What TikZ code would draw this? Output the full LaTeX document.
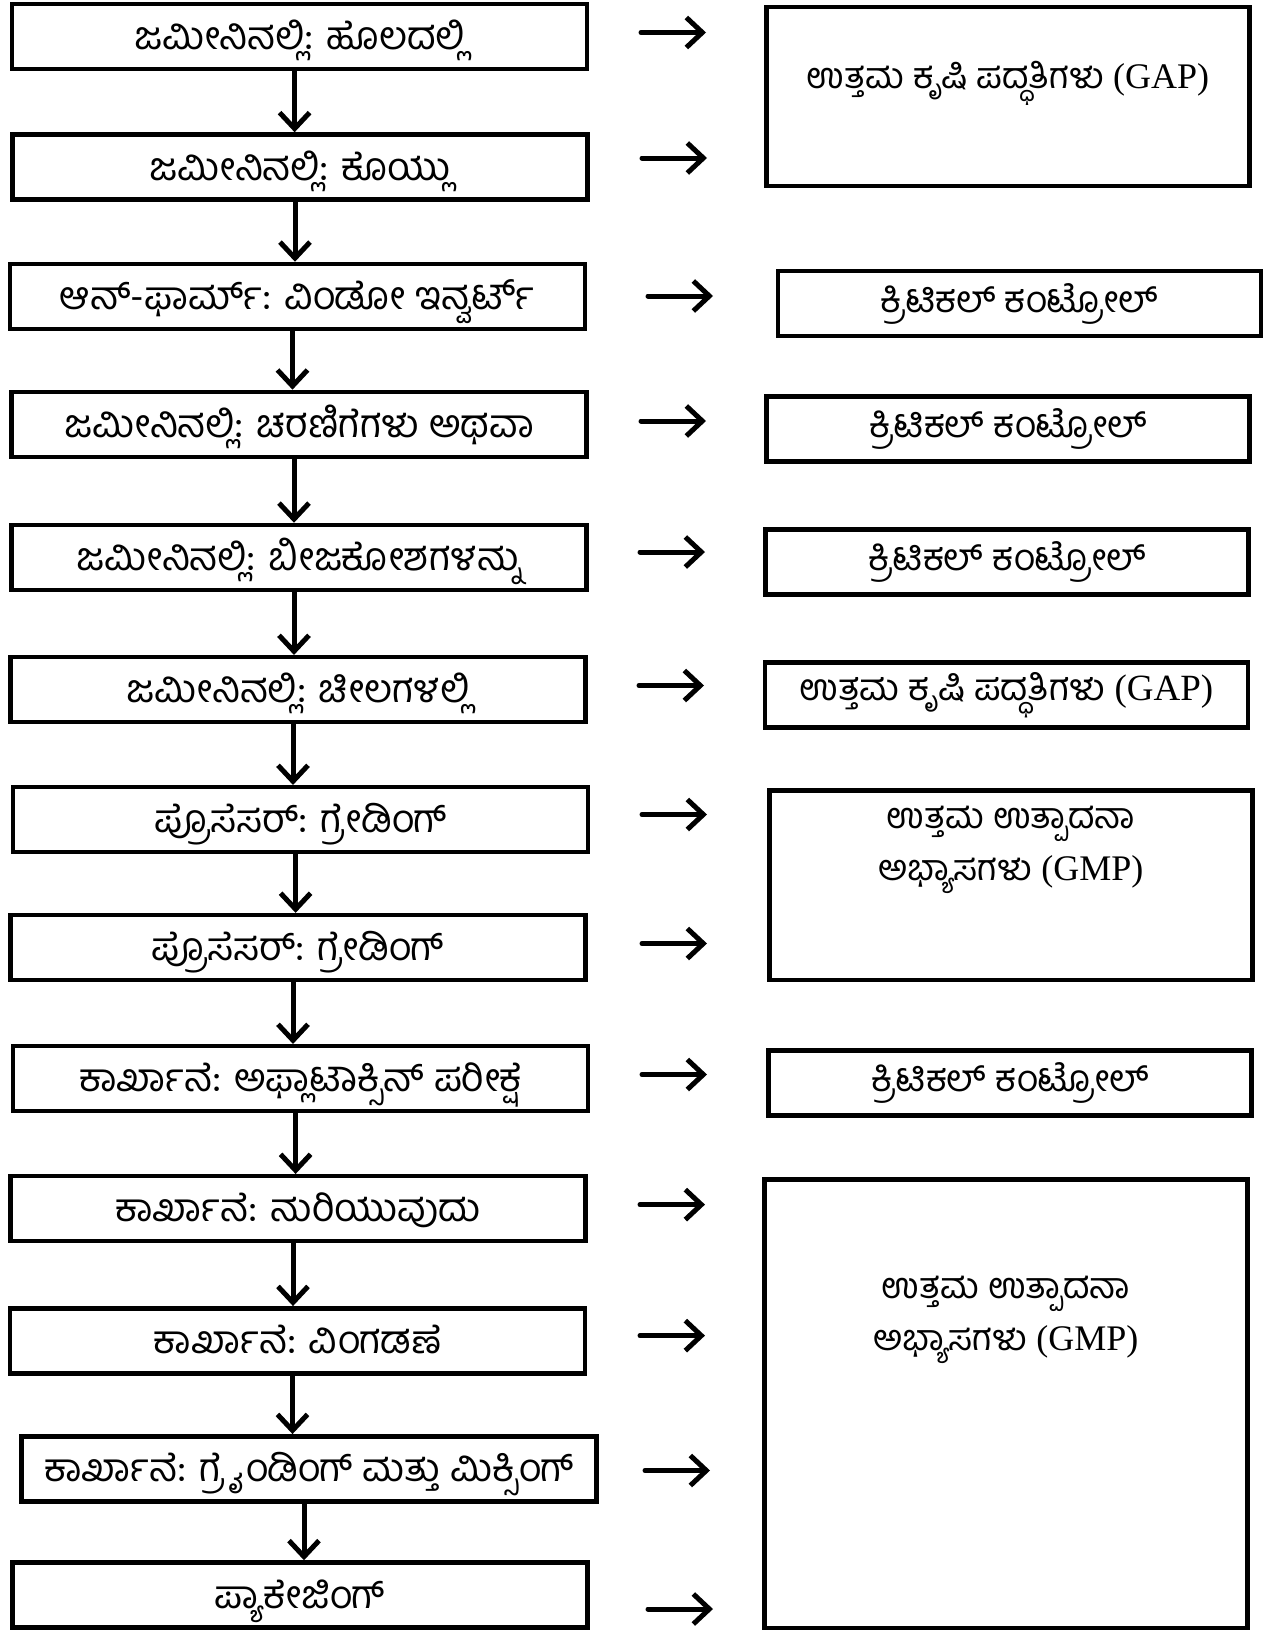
\documentclass[tikz,border=0pt]{standalone}
\usepackage{fontspec}
\setmainfont{Liberation Serif}
\newfontfamily\knfont[Script=Kannada]{Hind Mysuru}
\usepackage{tikz}
\usetikzlibrary{positioning, arrows.meta}

\begin{document}
\begin{tikzpicture}[x=1pt, y=-1pt,
  stepbox/.style={draw, line width=4.5pt, minimum width=575pt, minimum height=65pt, inner sep=0pt, text depth=8pt, text height=34pt, font=\knfont\fontsize{39}{46}\selectfont},
  sidebox/.style={draw, line width=4.5pt, minimum width=483pt, minimum height=65pt, inner sep=0pt, font=\fontsize{37}{44}\selectfont},
  sidetext/.style={align=center, font=\fontsize{36}{52}\selectfont},
  flow/.style={line width=5pt, line cap=round, -{Straight Barb[length=16pt, width=30pt]}}]
\useasboundingbox (0,0) rectangle (1268,1631);
% steps on the left
\node[stepbox] (s1) at (299.6,36.4) {ಜಮೀನಿನಲ್ಲಿ: ಹೊಲದಲ್ಲಿ};
\node[stepbox] (s2) at (300,167) {ಜಮೀನಿನಲ್ಲಿ: ಕೊಯ್ಲು};
\node[stepbox] (s3) at (297.5,296.5) {ಆನ್-ಫಾರ್ಮ್: ವಿಂಡೋ ಇನ್ವರ್ಟ್};
\node[stepbox] (s4) at (299,424.4) {ಜಮೀನಿನಲ್ಲಿ: ಚರಣಿಗೆಗಳು ಅಥವಾ};
\node[stepbox] (s5) at (299,557.5) {ಜಮೀನಿನಲ್ಲಿ: ಬೀಜಕೋಶಗಳನ್ನು};
\node[stepbox] (s6) at (298,689.7) {ಜಮೀನಿನಲ್ಲಿ: ಚೀಲಗಳಲ್ಲಿ};
\node[stepbox] (s7) at (300.6,819.7) {ಪ್ರೊಸೆಸರ್: ಗ್ರೇಡಿಂಗ್};
\node[stepbox] (s8) at (298,947.6) {ಪ್ರೊಸೆಸರ್: ಗ್ರೇಡಿಂಗ್};
\node[stepbox] (s9) at (300.6,1078.7) {ಕಾರ್ಖಾನೆ: ಅಫ್ಲಾಟಾಕ್ಸಿನ್ ಪರೀಕ್ಷೆ};
\node[stepbox] (s10) at (298,1208.7) {ಕಾರ್ಖಾನೆ: ಹುರಿಯುವುದು};
\node[stepbox] (s11) at (297.5,1340.8) {ಕಾರ್ಖಾನೆ: ವಿಂಗಡಣೆ};
\node[stepbox] (s12) at (309,1468.8) {ಕಾರ್ಖಾನೆ: ಗ್ರೈಂಡಿಂಗ್ ಮತ್ತು ಮಿಕ್ಸಿಂಗ್};
\node[stepbox] (s13) at (300,1595) {ಪ್ಯಾಕೇಜಿಂಗ್};
% down arrows
\draw[flow] ([xshift=-5pt]s1.south) -- ([xshift=-5pt]s1.south |- s2.north);
\draw[flow] ([xshift=-5pt]s2.south) -- ([xshift=-5pt]s2.south |- s3.north);
\draw[flow] ([xshift=-5pt]s3.south) -- ([xshift=-5pt]s3.south |- s4.north);
\draw[flow] ([xshift=-5pt]s4.south) -- ([xshift=-5pt]s4.south |- s5.north);
\draw[flow] ([xshift=-5pt]s5.south) -- ([xshift=-5pt]s5.south |- s6.north);
\draw[flow] ([xshift=-5pt]s6.south) -- ([xshift=-5pt]s6.south |- s7.north);
\draw[flow] ([xshift=-5pt]s7.south) -- ([xshift=-5pt]s7.south |- s8.north);
\draw[flow] ([xshift=-5pt]s8.south) -- ([xshift=-5pt]s8.south |- s9.north);
\draw[flow] ([xshift=-5pt]s9.south) -- ([xshift=-5pt]s9.south |- s10.north);
\draw[flow] ([xshift=-5pt]s10.south) -- ([xshift=-5pt]s10.south |- s11.north);
\draw[flow] ([xshift=-5pt]s11.south) -- ([xshift=-5pt]s11.south |- s12.north);
\draw[flow] ([xshift=-5pt]s12.south) -- ([xshift=-5pt]s12.south |- s13.north);
% boxes on the right
\node[sidebox, minimum height=179pt] (gap1) at (1008,96.7) {};
\node[sidetext] (gap1t) at (1008,83) {{\knfont ಉತ್ತಮ ಕೃಷಿ ಪದ್ಧತಿಗಳು} (GAP)};
\node[sidebox] (cc1) at (1019.4,303.7) {\knfont ಕ್ರಿಟಿಕಲ್ ಕಂಟ್ರೋಲ್};
\node[sidebox] (cc2) at (1008,429) {\knfont ಕ್ರಿಟಿಕಲ್ ಕಂಟ್ರೋಲ್};
\node[sidebox] (cc3) at (1007,562.2) {\knfont ಕ್ರಿಟಿಕಲ್ ಕಂಟ್ರೋಲ್};
\node[sidebox] (gap2) at (1006.4,694.8) {{\knfont ಉತ್ತಮ ಕೃಷಿ ಪದ್ಧತಿಗಳು} (GAP)};
\node[sidebox, minimum height=189.5pt] (gmp1) at (1011,885.2) {};
\node[sidetext] (gmp1t) at (1011,849.5) {{\knfont ಉತ್ತಮ ಉತ್ಪಾದನಾ}\\{\knfont ಅಭ್ಯಾಸಗಳು} (GMP)};
\node[sidebox] (cc4) at (1010,1083) {\knfont ಕ್ರಿಟಿಕಲ್ ಕಂಟ್ರೋಲ್};
\node[sidebox, minimum height=448.5pt] (gmp2) at (1006,1403.8) {};
\node[sidetext] (gmp2t) at (1006,1320) {{\knfont ಉತ್ತಮ ಉತ್ಪಾದನಾ}\\{\knfont ಅಭ್ಯಾಸಗಳು} (GMP)};
% arrows pointing to the right boxes
\coordinate (r1) at (641,32.5);
\coordinate (r2) at (642,158);
\coordinate (r3) at (648,296);
\coordinate (r4) at (641,421);
\coordinate (r5) at (640,552);
\coordinate (r6) at (639,685.5);
\coordinate (r7) at (642,814.5);
\coordinate (r8) at (642,943.5);
\coordinate (r9) at (642,1074.5);
\coordinate (r10) at (640,1204.6);
\coordinate (r11) at (640,1335.6);
\coordinate (r12) at (645,1470.5);
\coordinate (r13) at (648,1609);
\draw[flow] (r1) -- ++(65,0);
\draw[flow] (r2) -- ++(65,0);
\draw[flow] (r3) -- ++(65,0);
\draw[flow] (r4) -- ++(65,0);
\draw[flow] (r5) -- ++(65,0);
\draw[flow] (r6) -- ++(65,0);
\draw[flow] (r7) -- ++(65,0);
\draw[flow] (r8) -- ++(65,0);
\draw[flow] (r9) -- ++(65,0);
\draw[flow] (r10) -- ++(65,0);
\draw[flow] (r11) -- ++(65,0);
\draw[flow] (r12) -- ++(65,0);
\draw[flow] (r13) -- ++(65,0);
\end{tikzpicture}
\end{document}
